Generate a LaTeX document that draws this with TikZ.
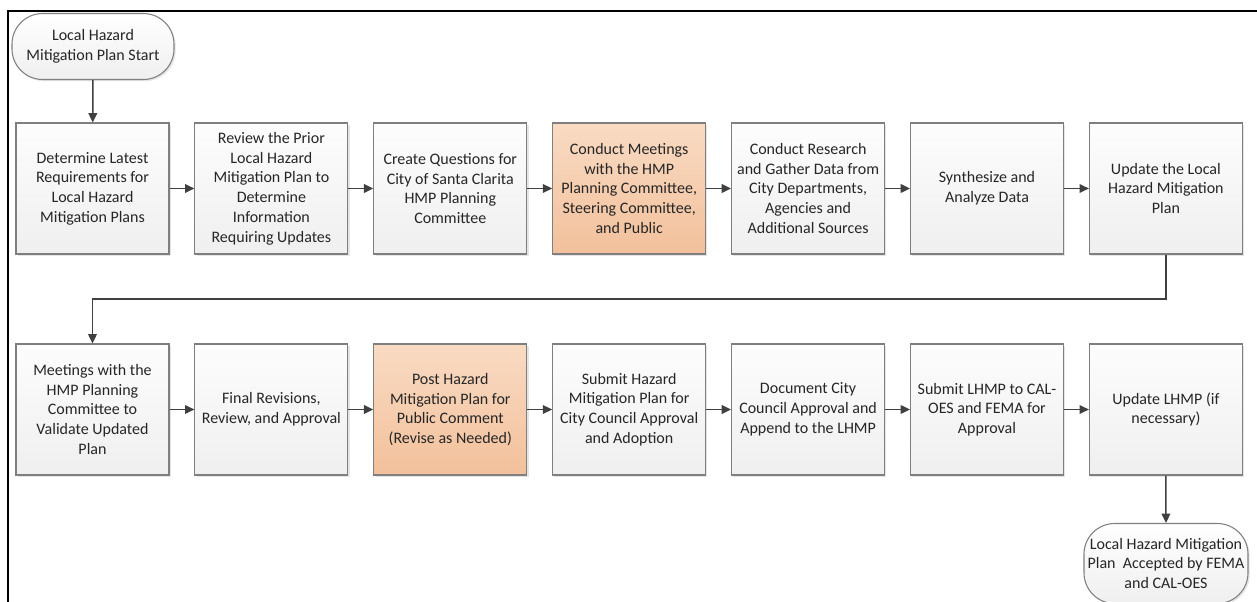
\documentclass[tikz,border=0pt]{standalone}
\usepackage{fontspec}
\setmainfont{Carlito}
\usetikzlibrary{arrows.meta,shadows}
\definecolor{txt}{HTML}{262626}
\definecolor{edge}{HTML}{7F7F7F}
\definecolor{arrc}{HTML}{404040}
\definecolor{grtop}{HTML}{FDFDFD}
\definecolor{grbot}{HTML}{EFEFEF}
\definecolor{ortop}{HTML}{F9DBC3}
\definecolor{orbot}{HTML}{F2C09B}
\tikzset{
  base/.style={draw=edge, line width=0.8pt, text=txt, align=center, inner sep=0pt,
    font=\fontsize{12pt}{14.8pt}\selectfont,
    drop shadow={shadow xshift=1.3pt, shadow yshift=-1.3pt, fill=black!40, opacity=0.25}},
  stepbox/.style={base, minimum width=114.75pt, minimum height=98.25pt,
    top color=grtop, bottom color=grbot},
  orbox/.style={base, minimum width=114.75pt, minimum height=98.25pt,
    top color=ortop, bottom color=orbot},
  term/.style={base, rounded corners=23pt, top color=white, bottom color=grbot},
  arr/.style={draw=arrc, line width=1.1pt, -{Triangle[length=7pt,width=6.5pt]}, color=arrc}
}
\begin{document}
\begin{tikzpicture}[x=0.75pt,y=-0.75pt]
\useasboundingbox (0,0) rectangle (1257,602);
\clip (0,0) rectangle (1257,602);
\fill[white] (0,0) rectangle (1257,602);
\draw[line width=1.5pt, black] (8,620) -- (8,11) -- (1280,11);

\node[term, minimum width=121.5pt, minimum height=49.5pt] (start) at (93,46.5)
  {Local Hazard\\Mitigation Plan Start};

\node[stepbox] (b1) at (92.5,188.5) {Determine Latest\\Requirements for\\Local Hazard\\Mitigation Plans};
\node[stepbox] (b2) at (271.4,188.5) {Review the Prior\\Local Hazard\\Mitigation Plan to\\Determine\\Information\\Requiring Updates};
\node[stepbox] (b3) at (450.3,188.5) {Create Questions for\\City of Santa Clarita\\HMP Planning\\Committee};
\node[orbox] (b4) at (629.2,188.5) {Conduct Meetings\\with the HMP\\Planning Committee,\\Steering Committee,\\and Public};
\node[stepbox] (b5) at (808.1,188.5) {Conduct Research\\and Gather Data from\\City Departments,\\Agencies and\\Additional Sources};
\node[stepbox] (b6) at (987.0,188.5) {Synthesize and\\Analyze Data};
\node[stepbox] (b7) at (1165.9,188.5) {Update the Local\\Hazard Mitigation\\Plan};

\node[stepbox] (b8) at (92.5,409.5) {Meetings with the\\HMP Planning\\Committee to\\Validate Updated\\Plan};
\node[stepbox] (b9) at (271.4,409.5) {Final Revisions,\\Review, and Approval};
\node[orbox] (b10) at (450.3,409.5) {Post Hazard\\Mitigation Plan for\\Public Comment\\(Revise as Needed)};
\node[stepbox] (b11) at (629.2,409.5) {Submit Hazard\\Mitigation Plan for\\City Council Approval\\and Adoption};
\node[stepbox] (b12) at (808.1,409.5) {Document City\\Council Approval and\\Append to the LHMP};
\node[stepbox] (b13) at (987.0,409.5) {Submit LHMP to CAL-\\OES and FEMA for\\Approval};
\node[stepbox] (b14) at (1165.9,409.5) {Update LHMP (if\\necessary)};

\node[term, minimum width=123pt, minimum height=60pt] (end) at (1166,563.5)
  {Local Hazard Mitigation\\Plan\ \ Accepted by FEMA\\and CAL-OES};

\coordinate (turn) at (0,299);
\draw[arr] (start) -- (b1);
\draw[arr] (b1) -- (b2);
\draw[arr] (b2) -- (b3);
\draw[arr] (b3) -- (b4);
\draw[arr] (b4) -- (b5);
\draw[arr] (b5) -- (b6);
\draw[arr] (b6) -- (b7);
\draw[arr] (b7.south) -- (b7.south |- turn) -| (b8.north);
\draw[arr] (b8) -- (b9);
\draw[arr] (b9) -- (b10);
\draw[arr] (b10) -- (b11);
\draw[arr] (b11) -- (b12);
\draw[arr] (b12) -- (b13);
\draw[arr] (b13) -- (b14);
\draw[arr] (b14) -- (end);
\end{tikzpicture}
\end{document}
